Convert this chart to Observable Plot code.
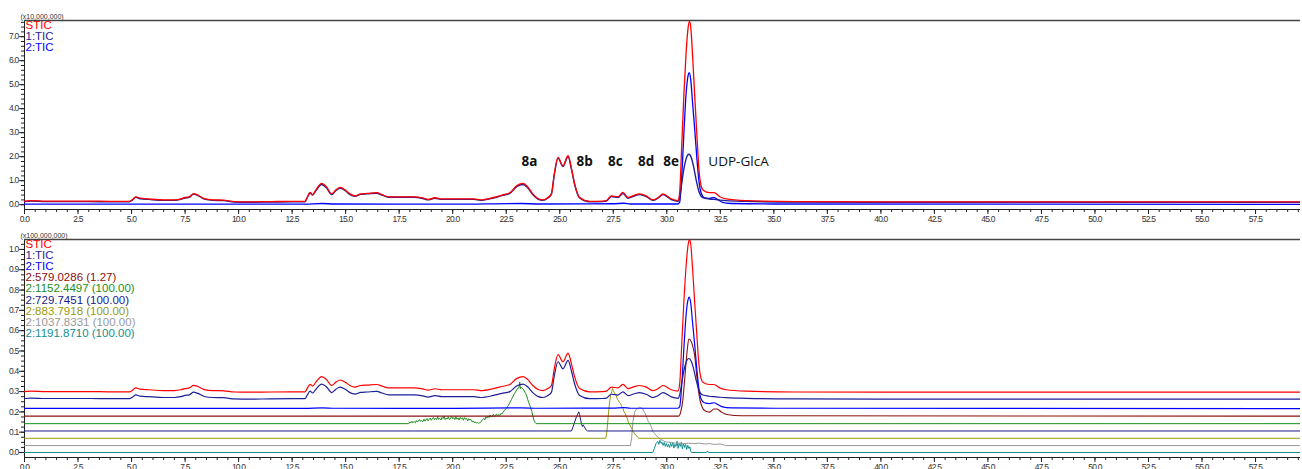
<!DOCTYPE html>
<html><head><meta charset="utf-8">
<script src="https://cdn.jsdelivr.net/npm/d3@7"></script>
<script src="https://cdn.jsdelivr.net/npm/@observablehq/plot@0.6"></script>
<style>
html,body{margin:0;padding:0;background:#fff;width:1302px;height:469px;overflow:hidden;}
#topc,#botc{position:absolute;left:0;}
#topc{top:0px} #botc{top:230px}
svg .tk text{letter-spacing:-0.8px}
</style></head><body>
<div id="topc"></div><div id="botc"></div>
<script>
// ---------- data (time in min, intensity) ----------
// TIC traces, units of 1e7 counts
const sticTop = [[0,0.15],[0.3,0.17],[1,0.15],[2,0.15],[3,0.15],[4,0.14],[4.9,0.14],[5.05,0.22],[5.2,0.33],[5.4,0.27],[5.8,0.24],[6.5,0.2],[7.0,0.2],[7.3,0.24],[7.5,0.3],[7.7,0.33],[7.9,0.46],[8.1,0.4],[8.4,0.25],[8.8,0.2],[9.3,0.19],[9.8,0.13],[10.5,0.12],[11.5,0.13],[12.5,0.14],[13.1,0.14],[13.2,0.3],[13.34,0.51],[13.46,0.42],[13.6,0.6],[13.88,0.89],[14.1,0.75],[14.35,0.45],[14.55,0.62],[14.74,0.72],[15.0,0.6],[15.2,0.45],[15.44,0.37],[15.7,0.45],[16.0,0.47],[16.45,0.5],[16.7,0.42],[17.0,0.33],[17.6,0.33],[18.2,0.33],[18.6,0.28],[18.85,0.22],[19.17,0.29],[19.5,0.24],[20.2,0.24],[21.0,0.24],[21.3,0.2],[21.9,0.3],[22.3,0.4],[22.67,0.5],[23.0,0.8],[23.29,0.89],[23.5,0.75],[23.74,0.45],[24.0,0.25],[24.2,0.2],[24.45,0.3],[24.61,0.45],[24.75,1.3],[24.92,1.97],[25.15,1.62],[25.39,2.04],[25.55,1.5],[25.7,0.86],[25.93,0.3],[26.4,0.14],[27.0,0.15],[27.18,0.17],[27.41,0.37],[27.72,0.33],[27.95,0.51],[28.19,0.3],[28.45,0.38],[28.73,0.45],[29.04,0.37],[29.35,0.2],[29.6,0.3],[29.82,0.45],[30.21,0.24],[30.52,0.17],[30.6,0.5],[30.7,2.5],[30.8,4.6],[30.9,6.3],[31.0,7.4],[31.06,7.65],[31.12,7.4],[31.2,6.3],[31.3,4.6],[31.4,3.0],[31.5,1.5],[31.6,0.8],[31.7,0.6],[32.0,0.5],[32.2,0.5],[32.5,0.32],[32.78,0.24],[33.7,0.17],[36,0.13],[40,0.12],[45,0.12],[50,0.12],[55,0.12],[59.6,0.12]];
const tic1Top = [[0,0.13],[0.3,0.15],[1,0.13],[2,0.13],[3,0.13],[4,0.12],[4.9,0.12],[5.05,0.2],[5.2,0.31],[5.4,0.25],[5.8,0.22],[6.5,0.18],[7.0,0.18],[7.3,0.22],[7.5,0.28],[7.7,0.31],[7.9,0.44],[8.1,0.38],[8.4,0.23],[8.8,0.18],[9.3,0.17],[9.8,0.11],[10.5,0.1],[11.5,0.11],[12.5,0.12],[13.1,0.12],[13.2,0.28],[13.34,0.49],[13.46,0.4],[13.6,0.57],[13.88,0.84],[14.1,0.71],[14.35,0.42],[14.55,0.59],[14.74,0.69],[15.0,0.57],[15.2,0.42],[15.44,0.35],[15.7,0.43],[16.0,0.45],[16.45,0.48],[16.7,0.4],[17.0,0.31],[17.6,0.31],[18.2,0.31],[18.6,0.26],[18.85,0.2],[19.17,0.27],[19.5,0.22],[20.2,0.22],[21.0,0.22],[21.3,0.18],[21.9,0.28],[22.3,0.38],[22.67,0.47],[23.0,0.76],[23.29,0.84],[23.5,0.71],[23.74,0.42],[24.0,0.22],[24.2,0.18],[24.45,0.28],[24.61,0.43],[24.75,1.27],[24.92,1.94],[25.15,1.59],[25.39,2.01],[25.55,1.47],[25.7,0.83],[25.93,0.28],[26.4,0.12],[27.0,0.13],[27.18,0.15],[27.41,0.34],[27.72,0.3],[27.95,0.46],[28.19,0.27],[28.45,0.35],[28.73,0.42],[29.04,0.34],[29.35,0.18],[29.6,0.28],[29.82,0.42],[30.21,0.21],[30.52,0.14],[30.6,0.3],[30.7,0.9],[30.8,1.5],[30.9,1.9],[31.03,2.1],[31.15,1.95],[31.25,1.6],[31.38,1.0],[31.5,0.55],[31.68,0.3],[32.0,0.24],[32.2,0.22],[32.5,0.19],[32.78,0.17],[33.7,0.14],[36,0.11],[40,0.1],[45,0.1],[50,0.1],[55,0.1],[59.6,0.1]];
const tic2Top = [[0,0.02],[5,0.02],[13.1,0.02],[13.9,0.05],[14.5,0.03],[20,0.02],[23.2,0.05],[24,0.03],[27.5,0.04],[28,0.06],[28.3,0.03],[30.5,0.03],[30.6,0.1],[30.7,1.2],[30.8,3.0],[30.9,4.6],[31.0,5.4],[31.05,5.5],[31.12,5.2],[31.2,4.3],[31.3,3.2],[31.4,2.0],[31.5,1.0],[31.6,0.5],[31.75,0.3],[32.0,0.26],[32.2,0.3],[32.4,0.2],[32.6,0.1],[33,0.05],[35,0.03],[59.6,0.01]];
// extracted ion chromatograms, heights in units of 1e8 above own baseline
const eic579 = [[0,0],[30.55,0],[30.65,0.02],[30.75,0.08],[30.85,0.2],[30.95,0.32],[31.03,0.38],[31.1,0.375],[31.2,0.35],[31.3,0.3],[31.38,0.22],[31.45,0.15],[31.55,0.08],[31.65,0.045],[31.8,0.025],[32.0,0.02],[32.2,0.035],[32.35,0.035],[32.55,0.02],[32.8,0.008],[33.5,0.002],[59.6,0]];
const eic1152 = [[0,0],[17.95,0],[18.0,0.008],[18.04,0.003],[18.1,0.012],[18.13,0.005],[18.2,0.01],[18.26,0.004],[18.3,0.015],[18.34,0.009],[18.4,0.012],[18.45,0.02],[18.5,0.011],[18.55,0.016],[18.6,0.009],[18.66,0.022],[18.7,0.013],[18.75,0.018],[18.8,0.025],[18.84,0.014],[18.9,0.02],[18.95,0.028],[19.0,0.017],[19.05,0.024],[19.1,0.031],[19.15,0.019],[19.2,0.027],[19.25,0.02],[19.3,0.035],[19.33,0.022],[19.4,0.026],[19.45,0.018],[19.5,0.031],[19.55,0.025],[19.6,0.036],[19.65,0.02],[19.7,0.028],[19.74,0.023],[19.8,0.033],[19.85,0.019],[19.9,0.027],[19.95,0.036],[20.0,0.024],[20.05,0.03],[20.1,0.02],[20.15,0.034],[20.2,0.022],[20.25,0.028],[20.3,0.018],[20.35,0.031],[20.4,0.024],[20.45,0.029],[20.5,0.017],[20.55,0.03],[20.6,0.022],[20.65,0.026],[20.7,0.014],[20.75,0.024],[20.8,0.018],[20.85,0.021],[20.9,0.01],[20.95,0.013],[21.0,0.006],[21.05,0.009],[21.1,0.003],[21.15,0.006],[21.2,0.002],[21.25,0.004],[21.3,0.006],[21.35,0.014],[21.4,0.02],[21.45,0.026],[21.5,0.019],[21.55,0.033],[21.6,0.027],[21.65,0.038],[21.7,0.03],[21.75,0.043],[21.8,0.032],[21.85,0.038],[21.9,0.046],[21.95,0.034],[22.0,0.041],[22.05,0.048],[22.1,0.037],[22.15,0.045],[22.2,0.04],[22.25,0.05],[22.3,0.048],[22.35,0.055],[22.4,0.063],[22.45,0.07],[22.5,0.074],[22.6,0.09],[22.7,0.11],[22.75,0.12],[22.8,0.131],[22.9,0.15],[23.0,0.168],[23.05,0.175],[23.1,0.178],[23.13,0.205],[23.16,0.172],[23.2,0.18],[23.25,0.175],[23.3,0.17],[23.35,0.16],[23.4,0.15],[23.45,0.14],[23.5,0.12],[23.55,0.105],[23.6,0.09],[23.65,0.075],[23.7,0.06],[23.75,0.035],[23.8,0.016],[23.85,0.006],[23.9,0],[59.6,0]];
const eic729 = [[0,0],[25.55,0],[25.62,0.02],[25.7,0.045],[25.78,0.07],[25.85,0.085],[25.89,0.094],[25.93,0.08],[25.98,0.053],[26.03,0.03],[26.06,0.022],[26.1,0.03],[26.15,0.02],[26.25,0.003],[26.3,0],[59.6,0]];
const eic883 = [[0,0],[27.15,0],[27.2,0.03],[27.25,0.09],[27.3,0.15],[27.37,0.21],[27.43,0.23],[27.47,0.245],[27.5,0.235],[27.55,0.225],[27.6,0.215],[27.64,0.21],[27.7,0.19],[27.75,0.185],[27.8,0.175],[27.85,0.17],[27.9,0.155],[27.95,0.15],[28.0,0.13],[28.05,0.125],[28.1,0.11],[28.15,0.1],[28.2,0.08],[28.26,0.07],[28.3,0.06],[28.35,0.05],[28.42,0.035],[28.5,0.022],[28.58,0.012],[28.65,0.004],[28.7,0],[59.6,0]];
const eic1037 = [[0,0],[28.3,0],[28.36,0.04],[28.42,0.12],[28.5,0.165],[28.58,0.18],[28.65,0.182],[28.72,0.19],[28.78,0.188],[28.84,0.185],[28.9,0.175],[28.96,0.165],[29.02,0.15],[29.08,0.135],[29.14,0.118],[29.2,0.11],[29.28,0.092],[29.35,0.07],[29.43,0.059],[29.5,0.05],[29.59,0.042],[29.7,0.03],[29.82,0.026],[29.9,0.02],[30.0,0.018],[30.2,0.015],[30.4,0.012],[30.6,0.012],[30.8,0.01],[31.0,0.012],[31.3,0.01],[31.5,0.012],[31.8,0.008],[32.0,0.01],[32.2,0.006],[32.5,0.008],[32.7,0.002],[32.8,0],[59.6,0]];
const eic1191 = [[0,0],[29.35,0],[29.42,0.02],[29.5,0.045],[29.58,0.055],[29.63,0.04],[29.68,0.06],[29.73,0.045],[29.78,0.05],[29.83,0.035],[29.88,0.05],[29.93,0.03],[29.98,0.045],[30.03,0.028],[30.08,0.04],[30.13,0.025],[30.18,0.045],[30.23,0.03],[30.28,0.05],[30.33,0.022],[30.38,0.04],[30.43,0.03],[30.48,0.055],[30.53,0.02],[30.58,0.045],[30.63,0.03],[30.68,0.05],[30.73,0.018],[30.78,0.045],[30.83,0.025],[30.88,0.04],[30.93,0.015],[30.98,0.035],[31.03,0.02],[31.08,0.028],[31.12,0.005],[31.15,0],[31.85,0],[31.9,0.008],[31.95,0],[59.6,0]];

// legend labels
const topLegend = ["STIC","1:TIC","2:TIC"];
const botLegend = ["STIC","1:TIC","2:TIC","2:579.0286 (1.27)","2:1152.4497 (100.00)","2:729.7451 (100.00)","2:883.7918 (100.00)","2:1037.8331 (100.00)","2:1191.8710 (100.00)"];
// peak annotations (time, height in 1e7)
const peakLabels = [{t:23.59,v:1.81,text:"8a"},{t:26.16,v:1.81,text:"8b"},{t:27.6,v:1.81,text:"8c"},{t:29.04,v:1.81,text:"8d"},{t:30.2,v:1.81,text:"8e"}];
const compoundLabels = [{t:33.35,v:1.81,text:"UDP-GlcA"}];
// ticks
const xMajor = [0,2.5,5,7.5,10,12.5,15,17.5,20,22.5,25,27.5,30,32.5,35,37.5,40,42.5,45,47.5,50,52.5,55,57.5];
const yTopMajor = [0,1,2,3,4,5,6,7];
const yBotMajor = [0,0.1,0.2,0.3,0.4,0.5,0.6,0.7,0.8,0.9,1.0];
const xMinor = d3.range(0, 59.6, 0.5);
const yTopMinor = d3.range(0, 7.7, 0.2);
const yBotMinor = d3.range(0, 1.05, 0.025);

// ---------- styles ----------
const C = {stic:"#ff0000", tic1:"#1f1f99", tic2:"#0000ff", e579:"#8b1010", e1152:"#1a901a", e729:"#1a1a8c", e883:"#9a9a10", e1037:"#999999", e1191:"#129090"};
const FONT = "Liberation Sans, Arial, sans-serif";
const XDOM = [0, 59.6];

function axisMarks(yMajor, yMinor, ydom) {
  return [
    Plot.axisX({ticks: xMinor, tickSize: 3, tickFormat: () => "", stroke: "#222", label: null}),
    Plot.axisX({ticks: xMajor, tickSize: 5, tickPadding: 1, tickFormat: d => d.toFixed(1), fontSize: 8.5, fill: "#333", stroke: "#222", label: null, className: "tk"}),
    Plot.axisY({ticks: yMinor, tickSize: 3, tickFormat: () => "", stroke: "#222", label: null}),
    Plot.axisY({ticks: yMajor, tickSize: 5, tickPadding: 1, tickFormat: d => d.toFixed(1), fontSize: 8.5, fill: "#333", stroke: "#222", label: null, className: "tk"}),
    Plot.ruleX([0], {stroke: "#222", strokeWidth: 1}),
    Plot.ruleY([ydom[0]], {stroke: "#222", strokeWidth: 1}),
    Plot.ruleY([ydom[1]], {stroke: "#444", strokeWidth: 1.6})
  ];
}
function legendMarks(labels, colors) {
  return labels.map((s, i) => Plot.text([s], {frameAnchor: "top-left", text: d => d, dx: 1, dy: i * 11.2, fill: colors[i], fontSize: 11.5, fontFamily: FONT, lineAnchor: "top"}));
}
const line = (data, color, off, scale, w, curve = "linear") => Plot.line(data, {x: d => d[0], y: d => off + d[1] * scale, stroke: color, strokeWidth: w, clip: true, curve});

// ---------- top chart ----------
const topDom = [-0.2, 7.675];
const topChart = Plot.plot({
  width: 1302, height: 230,
  marginLeft: 24, marginRight: 2, marginTop: 20, marginBottom: 21,
  style: {fontFamily: FONT, background: "#fff"},
  x: {domain: XDOM, axis: null},
  y: {domain: topDom, axis: null},
  marks: [
    ...axisMarks(yTopMajor, yTopMinor, topDom),
    line(tic2Top, C.tic2, 0, 1, 1.3, "monotone-x"),
    line(tic1Top, C.tic1, 0, 1, 1.4, "monotone-x"),
    line(sticTop, C.stic, 0, 1, 1.3, "monotone-x"),
    Plot.text(peakLabels, {x: "t", y: "v", text: "text", fontSize: 13.5, fontWeight: "bold", fontFamily: "Open Sans, sans-serif", fill: "#111"}),
    Plot.text(compoundLabels, {x: "t", y: "v", text: "text", fontSize: 13.5, fontWeight: "normal", fontFamily: "Open Sans, sans-serif", fill: "#111"}),
    Plot.text(["(x10,000,000)"], {frameAnchor: "top-left", text: d => d, dx: -4, dy: -2, lineAnchor: "bottom", fontSize: 7, fill: "#333"}),
    ...legendMarks(topLegend, [C.stic, C.tic1, C.tic2])
  ]
});
document.getElementById("topc").appendChild(topChart);

// ---------- bottom chart ----------
const botDom = [-0.0246, 1.049];
const botChart = Plot.plot({
  width: 1302, height: 239,
  marginLeft: 24, marginRight: 2, marginTop: 9, marginBottom: 12,
  style: {fontFamily: FONT, background: "#fff", overflow: "visible"},
  x: {domain: XDOM, axis: null},
  y: {domain: botDom, axis: null},
  marks: [
    ...axisMarks(yBotMajor, yBotMinor, botDom),
    line(eic1191, C.e1191, 0.0, 1, 1),
    line(eic1037, C.e1037, 0.034, 1, 1),
    line(eic883, C.e883, 0.07, 1, 1),
    line(eic729, C.e729, 0.106, 1, 1),
    line(eic1152, C.e1152, 0.142, 1, 1),
    line(eic579, C.e579, 0.179, 1, 1.1, "monotone-x"),
    line(tic2Top, C.tic2, 0.215, 0.1, 1.2, "monotone-x"),
    line(tic1Top, C.tic1, 0.253, 0.1, 1.2, "monotone-x"),
    line(sticTop, C.stic, 0.285, 0.1, 1.2, "monotone-x"),
    Plot.text(["(x100,000,000)"], {frameAnchor: "top-left", text: d => d, dx: -4, dy: -2, lineAnchor: "bottom", fontSize: 7, fill: "#333"}),
    ...legendMarks(botLegend, [C.stic, C.tic1, C.tic2, C.e579, C.e1152, C.e729, C.e883, C.e1037, C.e1191])
  ]
});
document.getElementById("botc").appendChild(botChart);
</script></body></html>
